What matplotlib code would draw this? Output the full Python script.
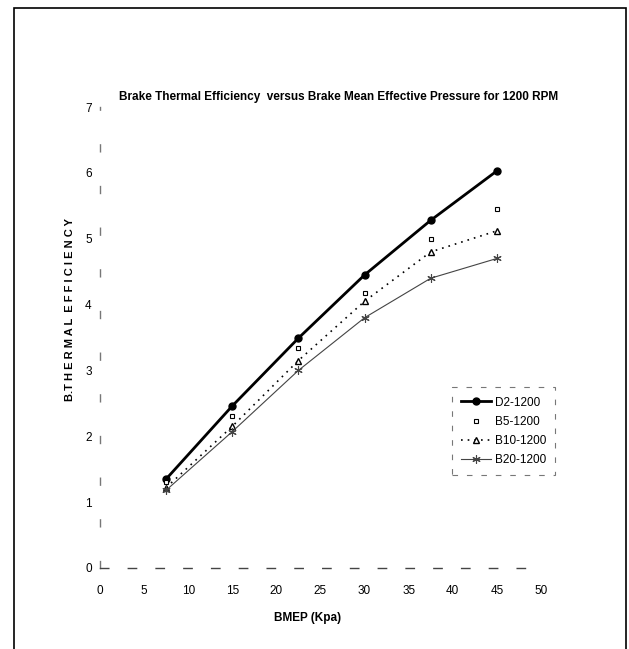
import matplotlib
matplotlib.use("Agg")
import matplotlib.pyplot as plt
from matplotlib.patches import Rectangle

plt.rcParams['font.family'] = ['Liberation Sans', 'DejaVu Sans']

bmep = [7.5, 15, 22.5, 30, 37.5, 45]
d2 = [1.35, 2.46, 3.49, 4.45, 5.28, 6.03]
b5 = [1.30, 2.30, 3.34, 4.18, 5.00, 5.45]
b10 = [1.22, 2.15, 3.15, 4.05, 4.80, 5.12]
b20 = [1.18, 2.07, 3.00, 3.80, 4.40, 4.70]
labels = ['D2-1200', 'B5-1200', 'B10-1200', 'B20-1200']

fig = plt.figure(figsize=(6.29, 6.49), dpi=100)
ax = fig.add_axes([0.159, 0.125, 0.701, 0.710])

ax.plot(bmep, d2, color='black', lw=2.0, marker='o', ms=5, label=labels[0])
ax.plot(bmep, b5, color='black', lw=0, marker='s', ms=3.5, mfc='white', mew=0.8, label=labels[1])
ax.plot(bmep, b10, color='black', lw=1.2, ls=(0, (1, 3)), marker='^', ms=5, mfc='white', mew=1.0, label=labels[2])
ax.plot(bmep, b20, color='#444444', lw=0.8, marker=(6, 2, 0), ms=6, mew=0.8, label=labels[3])

ax.set_xlim(0, 50)
ax.set_ylim(0, 7)
ax.set_xticks(range(0, 51, 5))
ax.set_yticks(range(0, 8))
ax.tick_params(axis='x', length=0, labelsize=8.5, pad=12)
ax.tick_params(axis='y', length=0, labelsize=8.5, pad=6)

for s in ['top', 'right']:
    ax.spines[s].set_visible(False)
ax.spines['left'].set_linestyle((0, (5, 25)))
ax.spines['left'].set_color('#777777')
ax.spines['left'].set_linewidth(1.0)
ax.spines['bottom'].set_linestyle((0, (6, 14)))
ax.spines['bottom'].set_color('#444444')
ax.spines['bottom'].set_linewidth(1.0)

ax.set_title('Brake Thermal Efficiency  versus Brake Mean Effective Pressure for 1200 RPM',
             fontsize=8.5, fontweight='bold', pad=5, x=0.54)
ax.set_xlabel('BMEP (Kpa)', fontsize=8.5, fontweight='bold', labelpad=8)
ax.xaxis.set_label_coords(0.47, -0.095)
ax.set_ylabel('B.T H E R M A L  E F F I C I E N C Y', fontsize=8, fontweight='bold')
ax.yaxis.set_label_coords(-0.056, 0.56)

leg = ax.legend(loc='upper left', bbox_to_anchor=(0.785, 0.405), fontsize=8.5,
                frameon=True, handlelength=2.5, borderpad=0.8, labelspacing=0.6,
                handletextpad=0.3, fancybox=False)
leg.get_frame().set_edgecolor('#555555')
leg.get_frame().set_linestyle((0, (5, 8)))
leg.get_frame().set_linewidth(0.8)

fig.patches.append(Rectangle((0.022, -0.05), 0.973, 1.038, transform=fig.transFigure,
                             fill=False, edgecolor='black', lw=1.2))

fig.savefig('out.png', dpi=100, facecolor='white')
